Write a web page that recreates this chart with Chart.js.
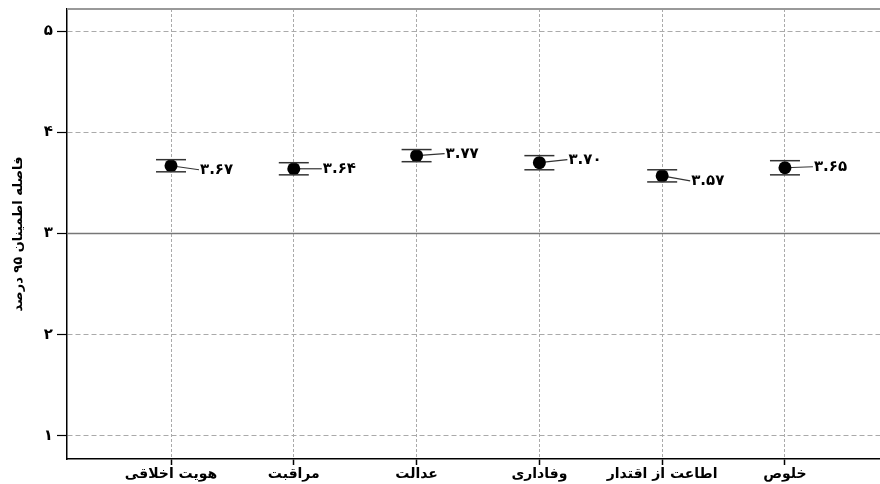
<!DOCTYPE html>
<html>
<head>
<meta charset="utf-8">
<script src="https://cdn.jsdelivr.net/npm/chart.js@4"></script>
<style>
  html, body { margin: 0; padding: 0; background: #fff; overflow: hidden; }
  canvas { display: block; }
</style>
</head>
<body>
<canvas id="chart" width="880" height="484"></canvas>
<script>
// Datos
const categories = ['هویت اخلاقی', 'مراقبت', 'عدالت', 'وفاداری', 'اطاعت از اقتدار', 'خلوص'];
const means = [3.67, 3.64, 3.77, 3.70, 3.57, 3.65];
const lower = [3.61, 3.58, 3.71, 3.63, 3.51, 3.58];
const upper = [3.73, 3.70, 3.83, 3.77, 3.63, 3.72];
const yTicks = [1, 2, 3, 4, 5];
const refValue = 3;
const yTitle = 'فاصله اطمینان ۹۵ درصد';

// pequeños desplazamientos verticales de las etiquetas (px)
const labelDy = [4, 0, -2, -3, 5, -1];

const faFont = 'DejaVu Sans';
const toFa = s => String(s).replace(/\d/g, d => '۰۱۲۳۴۵۶۷۸۹'[d]);

// Línea de referencia, borde superior, líneas guía y etiquetas
const extras = {
  id: 'extras',
  beforeDatasetsDraw(chart) {
    const { ctx, chartArea: a, scales: { x, y } } = chart;
    ctx.save();
    const yy = y.getPixelForValue(refValue);
    ctx.strokeStyle = '#777';
    ctx.lineWidth = 1.5;
    ctx.beginPath();
    ctx.moveTo(a.left, yy);
    ctx.lineTo(a.right, yy);
    ctx.stroke();

    ctx.strokeStyle = '#999';
    ctx.lineWidth = 2;
    ctx.beginPath();
    ctx.moveTo(a.left, a.top);
    ctx.lineTo(a.right, a.top);
    ctx.stroke();

    // líneas guía hacia las etiquetas
    ctx.strokeStyle = '#333';
    ctx.lineWidth = 1.2;
    means.forEach((m, i) => {
      const px = x.getPixelForValue(i);
      const py = y.getPixelForValue(m);
      ctx.beginPath();
      ctx.moveTo(px, py);
      ctx.lineTo(px + 28, py + labelDy[i]);
      ctx.stroke();
    });
    ctx.restore();
  },
  afterDatasetsDraw(chart) {
    const { ctx, scales: { x, y } } = chart;
    ctx.save();
    ctx.fillStyle = '#000';
    ctx.font = 'bold 15px "' + faFont + '"';
    ctx.textAlign = 'left';
    ctx.textBaseline = 'middle';
    means.forEach((m, i) => {
      const px = x.getPixelForValue(i);
      const py = y.getPixelForValue(m);
      ctx.fillText(toFa(m.toFixed(2)), px + 29, py + labelDy[i]);
    });
    ctx.restore();
  }
};

const capStyle = {
  pointStyle: 'line',
  radius: 15,
  hoverRadius: 15,
  borderColor: '#333',
  borderWidth: 1.5
};

new Chart(document.getElementById('chart'), {
  type: 'scatter',
  data: {
    datasets: [
      Object.assign({ label: 'upper', data: upper.map((v, i) => ({ x: i, y: v })) }, capStyle),
      Object.assign({ label: 'lower', data: lower.map((v, i) => ({ x: i, y: v })) }, capStyle),
      {
        label: 'mean',
        data: means.map((v, i) => ({ x: i, y: v })),
        pointStyle: 'circle',
        radius: 6.5,
        hoverRadius: 6.5,
        backgroundColor: '#000',
        borderColor: '#000',
        borderWidth: 0
      }
    ]
  },
  options: {
    responsive: false,
    animation: false,
    layout: { autoPadding: false, padding: { top: 9, right: 0, left: 0, bottom: 0 } },
    plugins: {
      legend: { display: false },
      tooltip: { enabled: false }
    },
    scales: {
      x: {
        type: 'linear',
        min: -0.847,
        max: 5.774,
        afterBuildTicks: s => { s.ticks = categories.map((c, i) => ({ value: i })); },
        afterFit: s => { s.height = 25; s.paddingLeft = 0; s.paddingRight = 0; },
        ticks: {
          callback: v => categories[v],
          font: { family: faFont, size: 14, weight: 'bold' },
          color: '#000',
          padding: 1,
          maxRotation: 0,
          autoSkip: false
        },
        grid: {
          color: '#aaa',
          lineWidth: 1,
          tickColor: '#000',
          tickLength: 6,
          tickWidth: 1.5,
          tickBorderDash: []
        },
        border: { color: '#000', width: 1.5, dash: [3, 2] }
      },
      y: {
        min: 0.77,
        max: 5.22,
        afterBuildTicks: s => { s.ticks = yTicks.map(v => ({ value: v })); },
        afterFit: s => { s.width = 67; s.paddingTop = 0; s.paddingBottom = 0; },
        ticks: {
          callback: v => toFa(v),
          font: { family: faFont, size: 15, weight: 'bold' },
          color: '#000',
          padding: 4
        },
        grid: {
          color: '#aaa',
          lineWidth: 1,
          tickColor: '#000',
          tickLength: 10,
          tickWidth: 1.2,
          tickBorderDash: []
        },
        border: { color: '#000', width: 1.5, dash: [5, 3] },
        title: {
          display: true,
          text: yTitle,
          font: { family: faFont, size: 13, weight: 'bold' },
          color: '#000',
          padding: { top: 11, bottom: 0 }
        }
      }
    }
  },
  plugins: [extras]
});
</script>
</body>
</html>
